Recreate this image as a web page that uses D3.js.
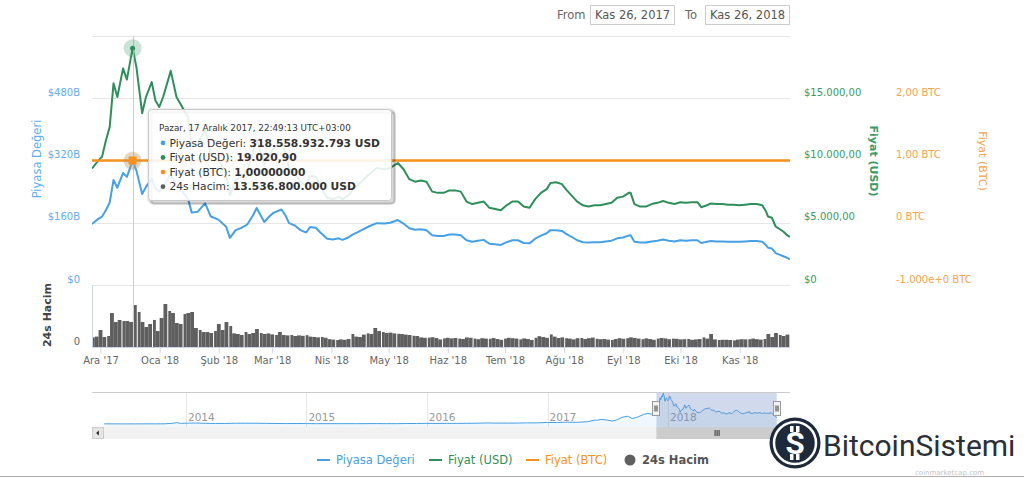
<!DOCTYPE html>
<html>
<head>
<meta charset="utf-8">
<script src="https://cdn.jsdelivr.net/npm/d3@7"></script>
<style>
  html, body { margin: 0; padding: 0; background: #fff; }
  svg { display: block; font-family: "DejaVu Sans", sans-serif; }
</style>
</head>
<body>
<div id="chart"></div>
<script>
// ---- veriler (grafikten okunan yaklaşık değerler) ----
const capDays = ["2017-11-26","2017-11-29","2017-12-01","2017-12-03","2017-12-05","2017-12-07","2017-12-09","2017-12-12","2017-12-14","2017-12-17",
  "2017-12-19","2017-12-22","2017-12-24","2017-12-27","2017-12-29","2017-12-31","2018-01-02","2018-01-06","2018-01-09","2018-01-12",
  "2018-01-15","2018-01-17","2018-01-20","2018-01-24","2018-01-27","2018-01-31","2018-02-04","2018-02-06","2018-02-09","2018-02-12",
  "2018-02-15","2018-02-18","2018-02-20","2018-02-22","2018-02-24","2018-02-27","2018-03-01","2018-03-05","2018-03-07","2018-03-09",
  "2018-03-12","2018-03-15","2018-03-18","2018-03-20","2018-03-23","2018-03-25","2018-03-29","2018-04-01","2018-04-04","2018-04-06",
  "2018-04-09","2018-04-11","2018-04-14","2018-04-16","2018-04-20","2018-04-24","2018-04-28","2018-05-01","2018-05-05","2018-05-08",
  "2018-05-11","2018-05-14","2018-05-17","2018-05-20","2018-05-23","2018-05-26","2018-05-29","2018-06-01","2018-06-04","2018-06-07",
  "2018-06-10","2018-06-13","2018-06-16","2018-06-19","2018-06-22","2018-06-25","2018-06-28","2018-07-01","2018-07-04","2018-07-07",
  "2018-07-10","2018-07-13","2018-07-16","2018-07-19","2018-07-22","2018-07-24","2018-07-27","2018-07-30","2018-08-01","2018-08-04",
  "2018-08-07","2018-08-10","2018-08-13","2018-08-16","2018-08-19","2018-08-22","2018-08-25","2018-08-28","2018-08-31","2018-09-03",
  "2018-09-04","2018-09-06","2018-09-09","2018-09-12","2018-09-15","2018-09-18","2018-09-21","2018-09-24","2018-09-27","2018-09-30",
  "2018-10-03","2018-10-06","2018-10-09","2018-10-11","2018-10-14","2018-10-16","2018-10-19","2018-10-22","2018-10-25","2018-10-28",
  "2018-10-31","2018-11-03","2018-11-06","2018-11-09","2018-11-12","2018-11-14","2018-11-15","2018-11-17","2018-11-19","2018-11-21",
  "2018-11-23","2018-11-25","2018-11-26"];

// Piyasa Değeri, milyar USD
const marketCapB = [158,170,176,192,212,270,250,288,278,318.56,
  294,234,252,272,248,240,252,287,252,240,
  222,186,188,210,176,168,150,121,141,147,
  155,178,198,180,162,178,186,194,180,159,
  153,141,135,149,147,137,119,117,120,116,
  122,129,136,141,151,159,158,160,167,158,
  146,142,143,141,128,126,126,130,130,128,
  115,111,114,116,106,105,103,110,115,115,
  108,107,119,127,133,141,141,139,132,124,
  115,110,109,110,110,112,114,120,122,127,
  128,111,109,109,112,114,117,114,112,115,
  114,115,115,108,111,113,112,112,111,111,
  111,112,113,113,111,102,96,94,82,78,
  74,70,67];

// Fiyat (USD)
const priceUsd = [9400,10000,10300,11600,12700,16200,15100,17400,16500,19020.9,
  17500,13800,15100,16300,14800,14300,15100,17200,15100,14300,
  13500,11200,11300,12500,10500,10000,8900,7200,8400,8700,
  9200,10500,11700,10700,9600,10500,11000,11500,10600,9400,
  9000,8300,8000,8800,8700,8100,7000,6900,7100,6900,
  7200,7600,8000,8300,8900,9400,9300,9400,9800,9300,
  8500,8300,8400,8300,7500,7400,7400,7600,7600,7500,
  6700,6500,6600,6700,6200,6100,6000,6400,6700,6700,
  6300,6200,6900,7400,7700,8200,8250,8100,7700,7200,
  6700,6400,6300,6400,6400,6500,6600,7000,7100,7400,
  7400,6500,6300,6300,6500,6600,6750,6600,6500,6650,
  6600,6650,6650,6250,6400,6550,6500,6500,6450,6450,
  6400,6450,6500,6500,6400,5900,5500,5400,4700,4500,
  4300,4000,3900];

// Fiyat (BTC)
const priceBtc = 1;

// 24s Hacim, milyar USD, 2 günlük çubuklar
const volumeStart = "2017-11-26";
const volumeB = [4.8,5.2,8.5,5.0,5.5,17.0,12.5,13.5,13.0,13.0,
  12.5,21.0,17.5,12.5,10.0,11.5,13.5,8.0,14.5,21.5,
  18.0,17.0,12.0,11.5,16.5,17.0,17.5,9.5,8.5,7.5,
  7.5,7.0,8.0,11.5,8.5,12.5,10.5,6.8,6.5,6.0,
  7.5,6.5,7.0,9.0,7.0,6.5,6.8,6.3,6.0,7.5,
  6.0,5.8,6.0,5.5,5.8,5.6,5.9,5.2,5.0,4.8,
  5.0,4.6,3.9,3.7,3.5,3.8,3.6,4.0,6.5,5.2,
  5.0,6.2,6.8,6.5,9.5,8.0,7.5,7.0,7.2,6.8,
  6.6,6.5,6.2,6.0,5.6,5.5,4.8,4.6,4.7,4.9,
  4.5,3.8,4.3,4.6,4.3,4.5,4.2,4.0,4.8,4.6,
  4.2,3.9,4.4,4.2,4.1,4.5,4.0,3.6,4.2,4.6,
  4.4,4.2,3.8,4.3,4.0,3.5,4.6,5.4,5.0,4.6,
  6.3,5.2,4.5,4.8,4.4,4.2,3.8,4.4,4.5,4.0,
  4.4,4.7,4.1,3.9,4.0,3.7,3.5,4.0,4.4,4.1,
  4.4,4.8,4.5,4.2,3.9,4.3,4.0,3.6,4.2,4.5,
  4.3,3.9,4.2,4.1,3.8,3.9,4.0,3.6,3.8,4.0,
  4.8,4.2,6.5,3.8,3.5,3.6,3.6,3.5,3.3,3.7,
  3.9,3.8,3.9,4.2,3.9,3.7,4.0,6.5,5.0,7.0,
  6.0,5.5,6.2];

// gezgin (navigator) için tüm geçmiş, milyar USD
const navDays = ["2013-04-28","2013-06-01","2013-07-01","2013-08-01","2013-09-01","2013-10-01","2013-11-01","2013-11-20","2013-12-04","2013-12-18",
  "2014-01-01","2014-02-01","2014-03-01","2014-04-01","2014-05-01","2014-06-01","2014-07-01","2014-08-01","2014-09-01","2014-10-01",
  "2014-11-01","2014-12-01","2015-01-01","2015-02-01","2015-03-01","2015-04-01","2015-05-01","2015-06-01","2015-07-01","2015-08-01",
  "2015-09-01","2015-10-01","2015-11-01","2015-12-01","2016-01-01","2016-02-01","2016-03-01","2016-04-01","2016-05-01","2016-06-01",
  "2016-07-01","2016-08-01","2016-09-01","2016-10-01","2016-11-01","2016-12-01","2017-01-01","2017-02-01","2017-03-01","2017-04-01",
  "2017-05-01","2017-05-25","2017-06-01","2017-06-12","2017-07-01","2017-07-16","2017-08-01","2017-08-15","2017-09-01","2017-09-15",
  "2017-10-01","2017-10-20","2017-11-01","2017-11-12","2017-11-20"];
const navCapB = [1.5,1.4,1.0,1.2,1.6,1.5,2.5,7,14,6,
  9,10,7,5.5,5.5,8,8,7.8,6.6,5.2,
  4.5,5.1,4.4,3.1,3.6,3.5,3.3,3.2,3.8,4.2,
  3.3,3.4,4.9,5.3,6.5,5.8,6.5,6.6,7.0,8.4,
  10.5,9.4,9.0,9.7,11.6,12.0,15.5,15.6,19.0,17.4,
  22.8,40,39,48,40,31,45,70,80,56,
  72,100,110,100,135];

// eksen etiketleri
const monthNames = ["Oca","Şub","Mar","Nis","May","Haz","Tem","Ağu","Eyl","Eki","Kas","Ara"];
const capTicks = [0, 160, 320, 480, 640];
const capTickLabels = ["$0", "$160B", "$320B", "$480B"];
const usdTicks = [0, 5000, 10000, 15000];
const usdTickLabels = ["$0", "$5.000,00", "$10.000,00", "$15.000,00"];
const btcTicks = [-1, 0, 1, 2];
const btcTickLabels = ["-1.000e+0 BTC", "0 BTC", "1,00 BTC", "2,00 BTC"];

const tooltipHeader = "Pazar, 17 Aralık 2017, 22:49:13 UTC+03:00";
const tooltipNames = ["Piyasa Değeri", "Fiyat (USD)", "Fiyat (BTC)", "24s Hacim"];
const tooltipValues = ["318.558.932.793 USD", "19.020,90", "1,00000000", "13.536.800.000 USD"];
const hoverDay = "2017-12-17";

// ---- renkler ----
const BLUE = "#47a0e4", GREEN = "#2f8f5b", ORANGE = "#f7931a", VOL = "#5f5f5f";
const BLUE_TXT = "#5daeea", GREEN_TXT = "#3a9a65", ORANGE_TXT = "#f4a24e";
const seriesColors = [BLUE, GREEN, ORANGE, VOL];

function drawChart() {
  const width = 1024, height = 478;
  const plotL = 92, plotR = 790;
  const mainTop = 36, mainBot = 285, volTop = 285, volBot = 347;

  const svg = d3.select('#chart').append('svg')
    .attr('width', width).attr('height', height)
    .attr('viewBox', [0, 0, width, height]);

  // zaman verisi noktaları 19:49 UTC (22:49 UTC+3)
  const pointTime = s => new Date(s + "T19:49:13Z");
  const dayTime = s => new Date(s + "T00:00:00Z");

  const x = d3.scaleUtc()
    .domain([new Date(Date.UTC(2017, 11, 1)), new Date(Date.UTC(2018, 10, 26, 19, 49))])
    .range([100.5, 789]);
  const yCap = d3.scaleLinear().domain([0, 640]).range([mainBot, mainTop]);
  const yUsd = d3.scaleLinear().domain([0, 20000]).range([mainBot, mainTop]);
  const yBtc = d3.scaleLinear().domain([-1, 3]).range([mainBot, mainTop]);
  const yVol = d3.scaleLinear().domain([0, 31]).range([volBot, volTop]);

  svg.append('defs').append('clipPath').attr('id', 'plotclip')
    .append('rect').attr('x', plotL).attr('y', 0).attr('width', plotR - plotL).attr('height', 400);

  // ---- tarih kutuları ----
  const top = svg.append('g').attr('font-size', 11.5).attr('fill', '#666');
  top.append('text').attr('x', 557).attr('y', 19).text('From');
  top.append('rect').attr('x', 590.5).attr('y', 5.5).attr('width', 84).attr('height', 19)
    .attr('fill', '#fff').attr('stroke', '#cccccc');
  top.append('text').attr('x', 632.5).attr('y', 19).attr('text-anchor', 'middle').attr('fill', '#555').text('Kas 26, 2017');
  top.append('text').attr('x', 685).attr('y', 19).text('To');
  top.append('rect').attr('x', 705.5).attr('y', 5.5).attr('width', 84).attr('height', 19)
    .attr('fill', '#fff').attr('stroke', '#cccccc');
  top.append('text').attr('x', 747.5).attr('y', 19).attr('text-anchor', 'middle').attr('fill', '#555').text('Kas 26, 2018');

  // ---- ızgara ----
  svg.append('g').selectAll('line').data(capTicks).join('line')
    .attr('x1', plotL).attr('x2', plotR)
    .attr('y1', d => Math.round(yCap(d)) + 0.5).attr('y2', d => Math.round(yCap(d)) + 0.5)
    .attr('stroke', '#e6e6e6');

  // ---- eksen etiketleri ----
  const styleAxis = (g, color) => {
    g.select('.domain').remove();
    g.selectAll('.tick line').remove();
    g.selectAll('text').attr('fill', color).attr('font-size', 10).attr('font-family', '"DejaVu Sans", sans-serif');
  };
  svg.append('g').attr('transform', 'translate(80,-6)')
    .call(d3.axisLeft(yCap).tickValues(capTicks.slice(0, 4)).tickFormat((d, i) => capTickLabels[i]).tickSize(0).tickPadding(0))
    .call(g => styleAxis(g, BLUE_TXT));
  svg.append('g').attr('transform', 'translate(804,-6)')
    .call(d3.axisRight(yUsd).tickValues(usdTicks).tickFormat((d, i) => usdTickLabels[i]).tickSize(0).tickPadding(0))
    .call(g => styleAxis(g, GREEN_TXT));
  svg.append('g').attr('transform', 'translate(896,-6)')
    .call(d3.axisRight(yBtc).tickValues(btcTicks).tickFormat((d, i) => btcTickLabels[i]).tickSize(0).tickPadding(0))
    .call(g => styleAxis(g, ORANGE_TXT));
  svg.append('g').attr('transform', 'translate(80,-6)')
    .call(d3.axisLeft(yVol).tickValues([0]).tickFormat(() => '0').tickSize(0).tickPadding(0))
    .call(g => styleAxis(g, '#666'));

  // eksen başlıkları
  svg.append('text').attr('transform', 'translate(37,159) rotate(-90)').attr('text-anchor', 'middle')
    .attr('dominant-baseline', 'central').attr('font-size', 11.5).attr('fill', BLUE_TXT).text('Piyasa Değeri');
  svg.append('text').attr('transform', 'translate(873,161) rotate(90)').attr('text-anchor', 'middle')
    .attr('dominant-baseline', 'central').attr('font-size', 11).attr('font-weight', 'bold').attr('fill', GREEN_TXT).text('Fiyat (USD)');
  svg.append('text').attr('transform', 'translate(982,161) rotate(90)').attr('text-anchor', 'middle')
    .attr('dominant-baseline', 'central').attr('font-size', 11).attr('fill', ORANGE_TXT).text('Fiyat (BTC)');
  svg.append('text').attr('transform', 'translate(47,315) rotate(-90)').attr('text-anchor', 'middle')
    .attr('dominant-baseline', 'central').attr('font-size', 11).attr('font-weight', 'bold').attr('fill', '#444').text('24s Hacim');

  // ---- hacim çubukları ----
  const vStart = dayTime(volumeStart);
  const volData = volumeB.map((v, i) => ({ t0: d3.utcDay.offset(vStart, 2 * i), t1: d3.utcDay.offset(vStart, 2 * i + 2), v, i }));
  svg.append('g').attr('clip-path', 'url(#plotclip)')
    .selectAll('rect').data(volData).join('rect')
    .attr('x', d => x(d.t0) + (d.i % 4 === 0 ? 1 : 0))
    .attr('width', d => x(d.t1) - x(d.t0) - (d.i % 4 === 0 ? 1 : 0))
    .attr('y', d => yVol(d.v))
    .attr('height', d => yVol(0) - yVol(d.v))
    .attr('fill', VOL);

  // hacim paneli eksen çizgileri
  svg.append('line').attr('x1', plotL + 0.5).attr('x2', plotL + 0.5).attr('y1', volTop).attr('y2', volBot)
    .attr('stroke', '#ccd6eb');
  svg.append('line').attr('x1', plotL).attr('x2', plotR).attr('y1', volBot + 0.5).attr('y2', volBot + 0.5)
    .attr('stroke', '#ccd6eb');

  // x ekseni
  const months = d3.utcMonth.range(new Date(Date.UTC(2017, 11, 1)), new Date(Date.UTC(2018, 10, 27)));
  svg.append('g').attr('transform', `translate(0,${volBot})`)
    .call(d3.axisBottom(x).tickValues(months)
      .tickFormat(d => monthNames[d.getUTCMonth()] + " '" + String(d.getUTCFullYear()).slice(2))
      .tickSize(6).tickPadding(4))
    .call(g => g.select('.domain').remove())
    .call(g => g.selectAll('.tick line').attr('stroke', '#ccd6eb'))
    .call(g => g.selectAll('text').attr('fill', '#666').attr('font-size', 10).attr('font-family', '"DejaVu Sans", sans-serif'));

  // ---- seriler ----
  const pts = capDays.map((s, i) => ({ t: pointTime(s), cap: marketCapB[i], usd: priceUsd[i], btc: priceBtc }));
  const lines = svg.append('g').attr('clip-path', 'url(#plotclip)').attr('fill', 'none')
    .attr('stroke-linejoin', 'round').attr('stroke-linecap', 'round');
  lines.append('path').datum(pts).attr('stroke', BLUE).attr('stroke-width', 2)
    .attr('d', d3.line().x(d => x(d.t)).y(d => yCap(d.cap)));
  lines.append('path').datum(pts).attr('stroke', GREEN).attr('stroke-width', 2)
    .attr('d', d3.line().x(d => x(d.t)).y(d => yUsd(d.usd)));
  lines.append('line').attr('x1', plotL).attr('x2', plotR)
    .attr('y1', yBtc(priceBtc)).attr('y2', yBtc(priceBtc))
    .attr('stroke', ORANGE).attr('stroke-width', 2.5);

  // ---- artı imleci ve vurgulanan noktalar ----
  const hi = pts[capDays.indexOf(hoverDay)];
  const hx = Math.round(x(hi.t)) + 0.5;
  svg.append('line').attr('x1', hx).attr('x2', hx).attr('y1', mainTop).attr('y2', volBot)
    .attr('stroke', '#cccccc');
  const halo = svg.append('g');
  halo.append('circle').attr('cx', x(hi.t)).attr('cy', yUsd(hi.usd)).attr('r', 9).attr('fill', GREEN).attr('opacity', 0.25);
  halo.append('circle').attr('cx', x(hi.t)).attr('cy', yUsd(hi.usd)).attr('r', 2.5).attr('fill', GREEN);
  halo.append('circle').attr('cx', x(hi.t)).attr('cy', yCap(hi.cap)).attr('r', 9).attr('fill', BLUE).attr('opacity', 0.2);
  halo.append('circle').attr('cx', x(hi.t)).attr('cy', yBtc(hi.btc)).attr('r', 9).attr('fill', ORANGE).attr('opacity', 0.25);
  halo.append('rect').attr('x', x(hi.t) - 4).attr('y', yBtc(hi.btc) - 4).attr('width', 8).attr('height', 8).attr('fill', ORANGE);

  // ---- ipucu kutusu ----
  const tip = svg.append('g').attr('transform', 'translate(148.5,109.5)');
  const tipW = 243, tipH = 91;
  [3, 2, 1].forEach(k => tip.append('rect').attr('x', k).attr('y', k).attr('width', tipW).attr('height', tipH)
    .attr('rx', 3).attr('fill', 'none').attr('stroke', '#000').attr('stroke-opacity', 0.05 * k).attr('stroke-width', 2 * (4 - k)));
  tip.append('rect').attr('width', tipW).attr('height', tipH).attr('rx', 3)
    .attr('fill', 'rgba(255,255,255,0.88)').attr('stroke', '#c8c8c8');
  tip.append('text').attr('x', 10.5).attr('y', 21).attr('font-size', 8.8).attr('fill', '#333').text(tooltipHeader);
  tooltipNames.forEach((name, i) => {
    const yy = 37 + i * 14.6;
    tip.append('circle').attr('cx', 14.5).attr('cy', yy - 3.6).attr('r', 2.4).attr('fill', seriesColors[i]);
    const t = tip.append('text').attr('x', 21).attr('y', yy).attr('font-size', 10.7).attr('fill', '#333');
    t.append('tspan').text(name + ': ');
    t.append('tspan').attr('font-weight', 'bold').text(tooltipValues[i]);
  });

  // ---- gezgin ----
  const navTop = 392, navBot = 427;
  const navX = d3.scaleUtc().domain([new Date(Date.UTC(2014, 0, 1)), new Date(Date.UTC(2018, 0, 1))]).range([186, 668]);
  const navY = d3.scaleLinear().domain([0, 320]).range([424, 393]);
  const navPts = navDays.map((s, i) => ({ t: dayTime(s), v: navCapB[i] })).concat(pts.map(p => ({ t: p.t, v: p.cap })));
  const years = d3.utcYear.range(new Date(Date.UTC(2014, 0, 1)), new Date(Date.UTC(2018, 1, 1)));
  const nav = svg.append('g');
  nav.selectAll('line.yr').data(years).join('line').attr('class', 'yr')
    .attr('x1', d => Math.round(navX(d)) + 0.5).attr('x2', d => Math.round(navX(d)) + 0.5)
    .attr('y1', navTop).attr('y2', navBot).attr('stroke', '#e6e6e6');
  nav.selectAll('text.yr').data(years).join('text').attr('class', 'yr')
    .attr('x', d => navX(d) + 2).attr('y', 421).attr('font-size', 10.5).attr('fill', '#999')
    .text(d => d.getUTCFullYear());
  nav.append('path').datum(navPts).attr('fill', BLUE).attr('fill-opacity', 0.08)
    .attr('d', d3.area().x(d => navX(d.t)).y0(navBot).y1(d => navY(d.v)));
  nav.append('path').datum(navPts).attr('fill', 'none').attr('stroke', BLUE).attr('stroke-width', 1)
    .attr('d', d3.line().x(d => navX(d.t)).y(d => navY(d.v)));
  const selL = navX(pointTime(capDays[0])), selR = navX(pointTime(capDays[capDays.length - 1]));
  nav.append('rect').attr('x', selL).attr('y', navTop).attr('width', selR - selL).attr('height', navBot - navTop)
    .attr('fill', 'rgba(102,133,194,0.3)');
  nav.append('line').attr('x1', plotL).attr('x2', plotR).attr('y1', navTop + 0.5).attr('y2', navTop + 0.5).attr('stroke', '#cccccc');
  [selL, selR].forEach(hxv => {
    const h = nav.append('g').attr('transform', `translate(${Math.round(hxv) + 0.5},401.5)`);
    h.append('rect').attr('x', -4).attr('y', 0).attr('width', 7).attr('height', 14).attr('fill', '#f2f2f2').attr('stroke', '#999');
    h.append('line').attr('x1', -1.5).attr('x2', -1.5).attr('y1', 4).attr('y2', 10).attr('stroke', '#333');
    h.append('line').attr('x1', 0.5).attr('x2', 0.5).attr('y1', 4).attr('y2', 10).attr('stroke', '#333');
  });

  // kaydırma çubuğu
  const sb = svg.append('g');
  sb.append('rect').attr('x', plotL).attr('y', navBot).attr('width', plotR - plotL).attr('height', 12).attr('fill', '#f2f2f2');
  sb.append('rect').attr('x', plotL + 0.5).attr('y', navBot + 0.5).attr('width', 11).attr('height', 11).attr('fill', '#e6e6e6').attr('stroke', '#cccccc');
  sb.append('path').attr('d', `M${plotL + 4},${navBot + 6} L${plotL + 7},${navBot + 3.5} L${plotL + 7},${navBot + 8.5} Z`).attr('fill', '#333');
  sb.append('rect').attr('x', selL).attr('y', navBot).attr('width', selR - selL + 2).attr('height', 12).attr('fill', '#cccccc');
  [-2, 0, 2].forEach(o => sb.append('line').attr('x1', (selL + selR) / 2 + o + 0.5).attr('x2', (selL + selR) / 2 + o + 0.5)
    .attr('y1', navBot + 3).attr('y2', navBot + 9).attr('stroke', '#333'));

  // ---- lejant ----
  const legendX = [317, 429, 526, 624];
  const legend = svg.append('g').attr('font-size', 11.5);
  tooltipNames.forEach((name, i) => {
    const g = legend.append('g').attr('transform', `translate(${legendX[i]},460)`);
    if (i < 3) {
      g.append('line').attr('x1', 0).attr('x2', 13).attr('y1', 0).attr('y2', 0).attr('stroke', seriesColors[i]).attr('stroke-width', 2);
    } else {
      g.append('circle').attr('cx', 6).attr('cy', 0).attr('r', 5.5).attr('fill', VOL);
    }
    g.append('text').attr('x', i < 3 ? 19 : 18).attr('y', 4).attr('fill', i === 3 ? '#555' : seriesColors[i])
      .attr('font-weight', i === 3 ? 'bold' : 'normal').text(name);
  });

  // ---- logo ----
  const logo = svg.append('g').attr('transform', 'translate(795,443)');
  logo.append('circle').attr('r', 25.5).attr('fill', '#1e2a3a');
  logo.append('circle').attr('r', 21).attr('fill', 'none').attr('stroke', '#fff').attr('stroke-width', 2.5);
  logo.append('text').attr('text-anchor', 'middle').attr('y', 11).attr('font-size', 31).attr('font-weight', 'bold')
    .attr('fill', '#fff').attr('font-family', 'Roboto, sans-serif').text('S');
  [-5, 1].forEach(o => {
    logo.append('rect').attr('x', o).attr('y', -17).attr('width', 3.5).attr('height', 6).attr('fill', '#fff');
    logo.append('rect').attr('x', o).attr('y', 11).attr('width', 3.5).attr('height', 6).attr('fill', '#fff');
  });
  svg.append('text').attr('x', 823).attr('y', 456).attr('font-size', 30).attr('font-family', 'Roboto, sans-serif')
    .attr('fill', '#2b2f38').text('BitcoinSistemi');

  // alt çizgi ve kaynak
  svg.append('text').attr('x', 915).attr('y', 475).attr('font-size', 7).attr('fill', '#c4c4c4').text('coinmarketcap.com');
  svg.append('line').attr('x1', 0).attr('x2', width).attr('y1', 476.5).attr('y2', 476.5).attr('stroke', '#b0b0b0');
}

drawChart();
</script>
</body>
</html>
